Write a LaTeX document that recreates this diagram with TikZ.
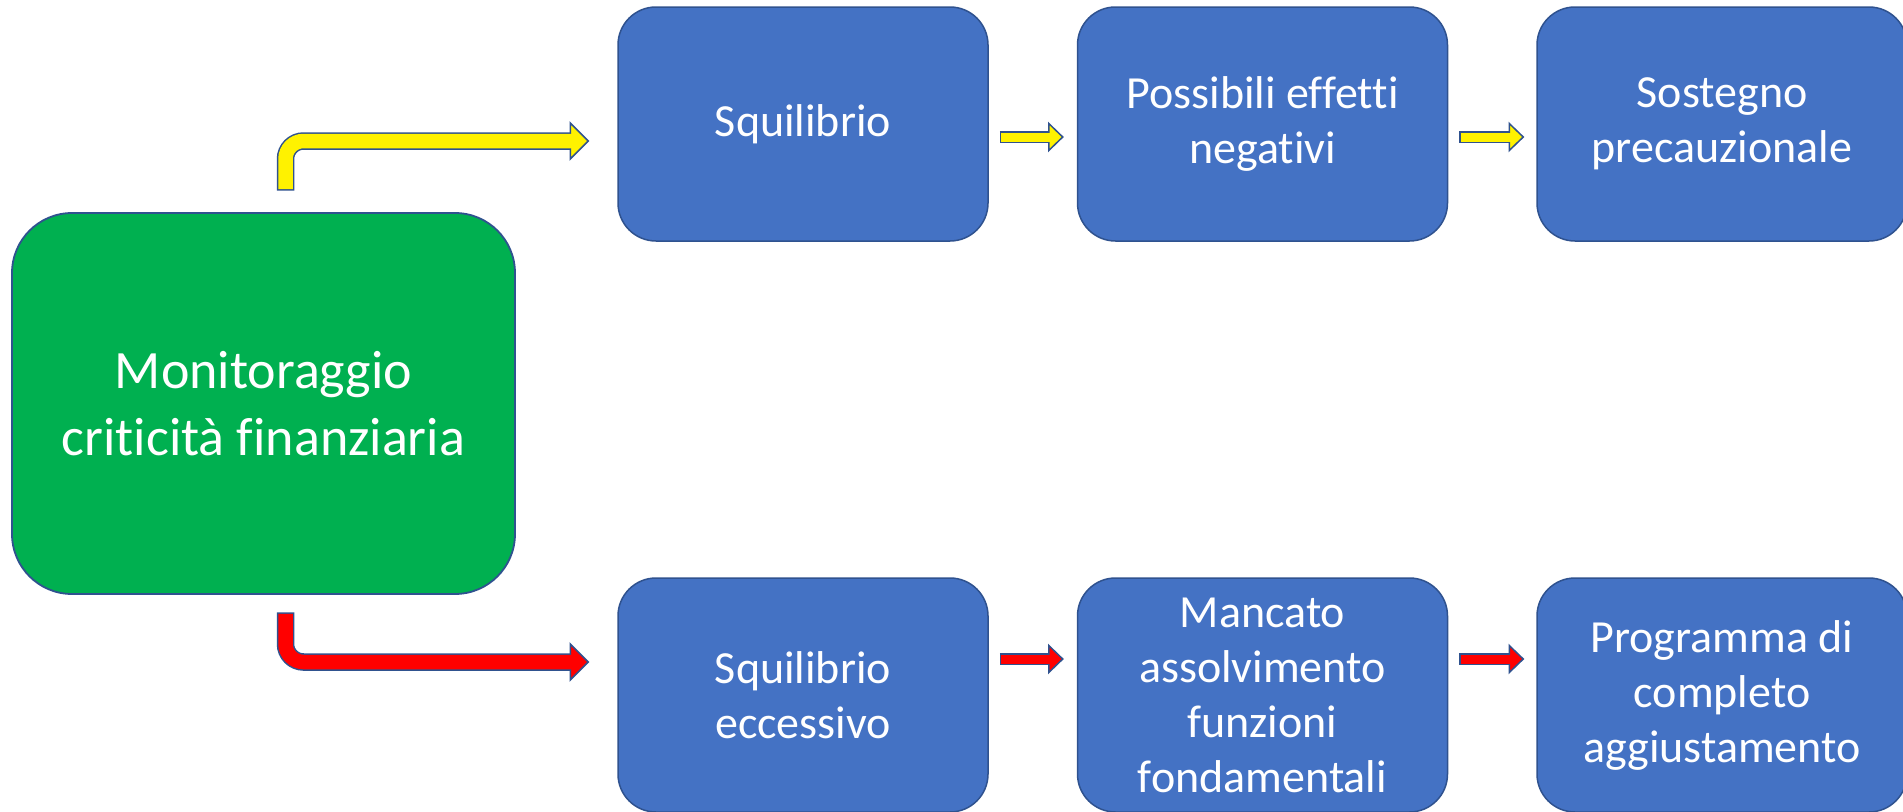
\documentclass[tikz,border=0pt]{standalone}
\usepackage{fontspec}
\setmainfont{Carlito}[Ligatures={NoCommon}]
\usetikzlibrary{calc}
\definecolor{boxblue}{HTML}{4472C4}
\definecolor{edgeblue}{HTML}{2F528F}
\definecolor{boxgreen}{HTML}{00B050}
\newcommand\StraightArrow[3]{%
  \draw[line width=12pt, edgeblue] ($(#2)+(-1.5,0)$) -- ($(#3)+(-14,0)$);
  \filldraw[fill=#1, draw=edgeblue, line width=1.5pt] (#3) -- ++(-14,-13.5) -- ++(0,27) -- cycle;
  \draw[line width=9pt, #1] (#2) -- ($(#3)+(-12.5,0)$);
}
\newcommand\BentArrow[4]{%
  % #1 colour, #2 stem end, #3 tip, #4 outline offset of stem end
  \draw[line width=17.5pt, edgeblue, rounded corners=18pt] ($(#2)+(0,#4)$) |- ($(#3)+(-18,0)$);
  \filldraw[fill=#1, draw=edgeblue, line width=1.5pt] (#3) -- ++(-18,-18) -- ++(0,36) -- cycle;
  \draw[line width=14.5pt, #1, rounded corners=18pt] (#2) |- ($(#3)+(-16.5,0)$);
}
\begin{document}
\begin{tikzpicture}[x=1pt,y=-1pt,
  stepbox/.style={rectangle, rounded corners=38pt, draw=edgeblue, line width=1.5pt,
    fill=boxblue, text=white, align=center, minimum width=370pt, minimum height=234pt,
    inner sep=0pt, font=\fontsize{46}{55}\selectfont},
  mainbox/.style={rectangle, rounded corners=60pt, draw=edgeblue, line width=1.8pt,
    fill=boxgreen, text=white, align=center, minimum width=503pt, minimum height=381pt,
    inner sep=0pt, font=\fontsize{54}{67}\selectfont}]
\clip (0,0) rectangle (1903,811);
\node[mainbox] (g) at (263.5,403.5) {Monitoraggio\\criticità finanziaria};
\node[stepbox] (b1) at (803,124) {Squilibrio};
\node[stepbox] (b2) at (1262.5,124) {Possibili effetti\\negativi};
\node[stepbox] (b3) at (1722,124) {Sostegno\\precauzionale};
\node[stepbox] (r1) at (803,695) {Squilibrio\\eccessivo};
\node[stepbox] (r2) at (1262.5,695) {Mancato\\assolvimento\\funzioni\\fondamentali};
\node[stepbox] (r3) at (1722,695) {Programma di\\completo\\aggiustamento};
% bent arrows
\coordinate (ys) at ($(g.north)+(22,-23)$);
\coordinate (yt) at ($(b1.west)+(-29,17)$);
\BentArrow{yellow}{ys}{yt}{1.5}
\coordinate (rs) at ($(g.south)+(22,19)$);
\coordinate (rt) at ($(r1.west)+(-29,-33)$);
\BentArrow{red}{rs}{rt}{-1.5}
% small arrows
\coordinate (a1s) at ($(b1.east)+(12.5,13)$);
\coordinate (a1t) at ($(b2.west)+(-14,13)$);
\StraightArrow{yellow}{a1s}{a1t}
\coordinate (a2s) at ($(b2.east)+(12.5,13)$);
\coordinate (a2t) at ($(b3.west)+(-13,13)$);
\StraightArrow{yellow}{a2s}{a2t}
\coordinate (a3s) at ($(r1.east)+(12.5,-36)$);
\coordinate (a3t) at ($(r2.west)+(-14,-36)$);
\StraightArrow{red}{a3s}{a3t}
\coordinate (a4s) at ($(r2.east)+(12.5,-36)$);
\coordinate (a4t) at ($(r3.west)+(-13,-36)$);
\StraightArrow{red}{a4s}{a4t}
\end{tikzpicture}
\end{document}
